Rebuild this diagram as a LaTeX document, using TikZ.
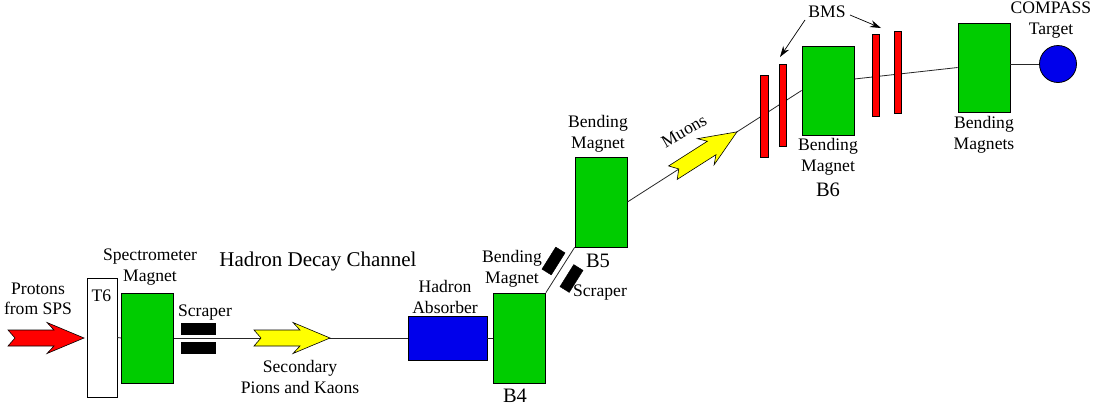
\documentclass[tikz,border=0pt]{standalone}
\usepackage{fontspec}
\setmainfont{Liberation Serif}
\newfontfamily\tnrfont{Liberation Serif}
\usetikzlibrary{calc,arrows.meta}
\definecolor{mgreen}{RGB}{0,204,0}
\definecolor{mblue}{RGB}{0,0,235}
\definecolor{mred}{RGB}{255,0,0}
\definecolor{myellow}{RGB}{255,255,0}
\tikzset{
  lbl/.style={font=\tnrfont\fontsize{17.6}{20.5}\selectfont, align=center, inner sep=0pt},
  biglbl/.style={font=\tnrfont\fontsize{21}{24}\selectfont, inner sep=0pt},
  bname/.style={font=\tnrfont\fontsize{20.5}{24}\selectfont, inner sep=0pt},
  magnet/.style={draw=black, fill=mgreen, line width=0.8pt, inner sep=0pt, minimum width=52pt, minimum height=90pt},
  absorber/.style={draw=black, fill=mblue, line width=0.8pt, inner sep=0pt, minimum width=79pt, minimum height=44pt},
  targetbox/.style={draw=black, fill=white, line width=0.8pt, inner sep=0pt, minimum width=30pt, minimum height=119pt},
  scr/.style={draw=black, fill=black, inner sep=0pt, minimum width=34pt, minimum height=11pt},
  bmsbar/.style={draw=black, fill=mred, line width=0.8pt, inner sep=0pt, minimum width=7.5pt, minimum height=82pt},
  beam/.style={draw=black!85, line width=0.8pt},
  pics/fatarrow/.style={code={
    \draw[fill=#1, line width=0.6pt, line join=miter]
      (-76,-8) -- (-30,-8) -- (-37,-15.5) -- (0,0) -- (-37,15.5) -- (-30,8) -- (-76,8) -- (-69,0) -- cycle;}}
}
\begin{document}
\begin{tikzpicture}[x=1pt,y=-1pt]
\useasboundingbox (0,0) rectangle (1104,408);

% nodes
\node[targetbox] (t6) at (102,337.5) {};
\node[lbl, anchor=center] (t6l) at (101.5,296) {T6};
\node[magnet] (spec) at (147.5,338) {};
\node[scr] (sc1) at (198,328.5) {};
\node[scr] (sc2) at (198,347.5) {};
\node[absorber] (abs) at (447.5,338) {};
\node[magnet] (b4) at (519.5,338) {};
\node[magnet] (b5) at (601,202) {};
\node[magnet, minimum height=89pt] (b6) at (828,90.5) {};
\node[magnet, minimum height=89pt] (bm) at (984,67.5) {};
\node[circle, draw=black, fill=mblue, line width=0.8pt, minimum size=37pt, inner sep=0pt] (tgt) at (1058,64) {};

\node[bmsbar] (bms1) at (764.5,116) {};
\node[bmsbar] (bms2) at (783,105) {};
\node[bmsbar] (bms3) at (876,75) {};
\node[bmsbar] (bms4) at (898,72) {};

% beam lines
\draw[beam] (t6.east) -- (spec.west);
\draw[beam] (spec.east) -- (abs.west);
\draw[beam] (abs.east) -- (b4.west);
\draw[beam] (b4.north east) -- (b5.south west);
\draw[beam] (b5.east) -- (b6.west);
\draw[beam] ($(b6.east)+(0,-11.5)$) -- (bm.west);
\draw[beam] (bm.east |- tgt.west) -- (tgt.west);

% redraw bars crossing beam
\node[bmsbar] at (bms1) {};
\node[bmsbar] at (bms2) {};
\node[bmsbar] at (bms3) {};
\node[bmsbar] at (bms4) {};

% diagonal scrapers
\node[scr, rotate=58, minimum width=26pt, minimum height=11pt] (dsc1) at (553.5,261) {};
\node[scr, rotate=58, minimum width=26pt, minimum height=11pt] (dsc2) at (571.5,278.5) {};

% big arrows
\pic at (84,338) {fatarrow=mred};
\pic at (330,338) {fatarrow=myellow};
\pic[rotate=32.5] at ($(b5.east)!0.629!(b6.west)$) {fatarrow=myellow};

% BMS arrows
\coordinate (bmsA1) at (805,20);
\coordinate (bmsA2) at (780,57);
\coordinate (bmsB1) at (850,15);
\coordinate (bmsB2) at (881,28);
\draw[line width=0.7pt, -{Stealth[length=11pt,width=7pt]}] (bmsA1) -- (bmsA2);
\draw[line width=0.7pt, -{Stealth[length=11pt,width=7pt]}] (bmsB1) -- (bmsB2);

% labels
\node[lbl] (l1) at (38,299) {Protons\\from SPS};
\node[lbl] (l2) at (150,267) {Spectrometer\\Magnet};
\node[lbl] (l3) at (205,313) {Scraper};
\node[biglbl] (l4) at (318,261) {Hadron Decay Channel};
\node[lbl] (l5) at (300,377) {Secondary\\Pions and Kaons};
\node[lbl] (l6) at (445,297) {Hadron\\Absorber};
\node[bname] (l7) at (515,396) {B4};
\node[lbl] (l8) at (512,269) {Bending\\Magnet};
\node[bname] (l9) at (598,261) {B5};
\node[lbl] (l10) at (598,134) {Bending\\Magnet};
\node[lbl] (l11) at (600,293) {Scraper};
\node[lbl, rotate=30] (l12) at (684,131) {Muons};
\node[lbl] (l13) at (827,12) {BMS};
\node[lbl] (l14) at (828,157) {Bending\\Magnet};
\node[bname] (l15) at (828,190) {B6};
\node[lbl] (l16) at (984,135) {Bending\\Magnets};
\node[lbl] (l17) at (1051,20) {COMPASS\\Target};
\end{tikzpicture}
\end{document}
